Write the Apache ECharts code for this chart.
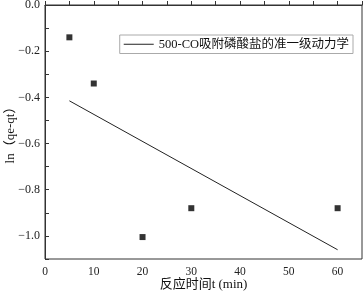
<!DOCTYPE html>
<html>
<head>
<meta charset="utf-8">
<script src="https://cdn.jsdelivr.net/npm/echarts@6/dist/echarts.min.js"></script>
<style>
	html, body { margin: 0; padding: 0; background: #fff; }
	#chartKin { width: 364px; height: 297px; }
</style>
</head>
<body>
<div id="chartKin"></div>
<script type="text/javascript">
	// 实验点
	var timeMin = [5, 10, 20, 30, 60];
	var lnQ = [-0.14, -0.34, -1.005, -0.88, -0.88];
	// 拟合直线两端
	var fitT = [5, 60];
	var fitLn = [-0.415, -1.06];
	var fitName = '500-CO吸附磷酸盐的准一级动力学';

	var fontCn = "'Liberation Serif', 'Noto Sans CJK SC', serif";

	var chartKin = echarts.init(document.getElementById('chartKin'));
	var option_kin = {
		animation: false,
		grid: {
			left: 45,
			right: 2,
			top: 5,
			bottom: 38,
			containLabel: false,
			outerBoundsMode: 'none',
			show: true,
			borderColor: '#333',
			borderWidth: 1
		},
		legend: {
			data: [{ name: fitName, icon: 'rect' }],
			right: 11,
			top: 35,
			itemWidth: 30,
			itemHeight: 1,
			itemGap: 4,
			padding: [3, 4, 3, 4],
			borderColor: '#aaa',
			borderWidth: 1,
			borderRadius: 0,
			itemStyle: { color: '#222' },
			textStyle: {
				color: '#111',
				fontSize: 12.5,
				fontFamily: fontCn
			}
		},
		xAxis: {
			type: 'value',
			min: 0,
			max: 65,
			interval: 5,
			name: '反应时间t (min)',
			nameLocation: 'middle',
			nameGap: 19,
			nameMoveOverlap: false,
			nameTextStyle: { color: '#111', fontSize: 13, fontFamily: fontCn },
			axisLine: { lineStyle: { color: '#333' } },
			axisTick: { inside: true, length: 4, lineStyle: { color: '#333' } },
			splitLine: { show: false },
			axisLabel: {
				color: '#222',
				fontSize: 11.5,
				fontFamily: fontCn,
				margin: 7,
				formatter: function (v) {
					return v % 10 === 0 ? String(v) : '';
				}
			}
		},
		yAxis: {
			type: 'value',
			min: -1.1,
			max: 0,
			interval: 0.1,
			name: 'ln（qe-qt）',
			nameLocation: 'middle',
			nameGap: 28,
			nameRotate: 90,
			nameMoveOverlap: false,
			nameTextStyle: { color: '#111', fontSize: 13, fontFamily: fontCn },
			axisLine: { show: true, lineStyle: { color: '#333' } },
			axisTick: { show: true, inside: true, length: 4, lineStyle: { color: '#333' } },
			splitLine: { show: false },
			axisLabel: {
				color: '#222',
				fontSize: 12,
				fontFamily: fontCn,
				margin: 5,
				formatter: function (v) {
					var k = Math.round(v * 10);
					if (k % 2 !== 0) return '';
					return (k < 0 ? '\u2212' : '') + Math.abs(v).toFixed(1);
				}
			}
		},
		series: [
			{
				name: '实验值',
				type: 'scatter',
				symbol: 'rect',
				symbolSize: 6,
				itemStyle: { color: '#000' },
				data: timeMin.map(function (t, i) { return [t, lnQ[i]]; })
			},
			{
				name: fitName,
				type: 'line',
				symbol: 'none',
				itemStyle: { color: '#222' },
				lineStyle: { color: '#222', width: 1 },
				data: fitT.map(function (t, i) { return [t, fitLn[i]]; })
			}
		]
	};
	chartKin.setOption(option_kin);
	window.onresize = function () {
		chartKin.resize();
	};
</script>
</body>
</html>
